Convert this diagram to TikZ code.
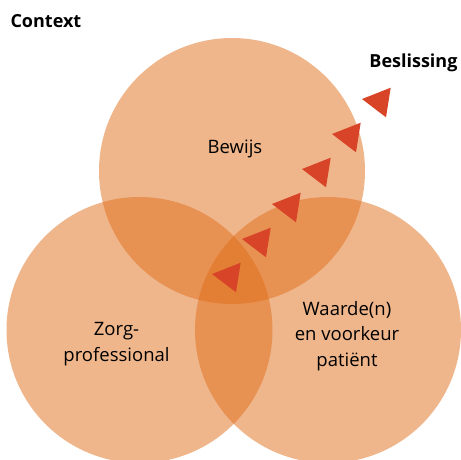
\documentclass[tikz,border=0pt]{standalone}
\usepackage{fontspec}
\setmainfont{Open Sans}
\usetikzlibrary{positioning}
\definecolor{vennfill}{RGB}{223,109,25}
\definecolor{arrowred}{RGB}{216,68,40}

\begin{document}
\begin{tikzpicture}[x=1pt,y=-1pt,
    venn/.style={circle,fill=vennfill,fill opacity=0.5,inner sep=0pt,minimum size=266pt},
    venntext/.style={align=center,font=\fontsize{18.5}{25.5}\selectfont},
    heading/.style={font=\fontsize{18}{22}\selectfont\bfseries}]

\useasboundingbox (0,0) rectangle (461,459);

% the three circles
\node[venn] (bewijs) at (232,171) {};
\node[venn] (zorg)   at (139.5,330) {};
\node[venn] (waarde) at (328,330) {};

\node[venntext,anchor=base] (bewijstext) at (235,153) {Bewijs};
\node[venntext] (zorgtext)   at (116.5,344) {Zorg-\\professional};
\node[venntext] (waardetext) at (347,336) {Waarde(n)\\en voorkeur\\pati\"ent};

\node[heading,anchor=base west] (context)    at (7,27.5) {Context};
\node[heading,anchor=base east] (beslissing) at (461,67) {Beslissing};

% arrow heads going up to the decision
\foreach \i in {0,...,5}
  \fill[arrowred] (362-30*\i,99+35*\i) -- ++(28.7,-11.3) -- ++(-4.7,29.6) -- cycle;

\end{tikzpicture}
\end{document}
